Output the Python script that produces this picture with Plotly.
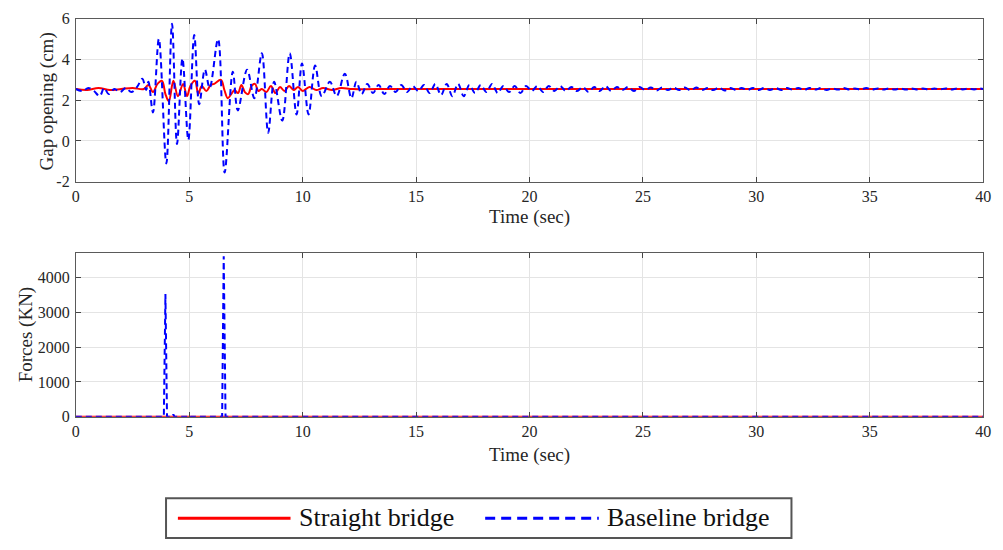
import plotly.graph_objects as go

# ---- Gap opening (cm) time histories ----
gap_t_straight = [0.0, 0.5, 1.0, 1.5, 2.0, 2.5, 3.0, 3.2, 3.4, 3.6, 3.8, 3.95, 4.1, 4.3, 4.5,
                  4.73, 4.9, 5.05, 5.25, 5.4, 5.55, 5.75, 5.95, 6.1, 6.4, 6.55, 6.7, 6.85,
                  7.0, 7.15, 7.3, 7.45, 7.6, 7.75, 7.9, 8.05, 8.2, 8.4, 8.6, 8.8, 9.0, 9.2,
                  9.4, 9.6, 9.8, 10.0, 10.3, 10.6, 10.9, 11.3, 11.7, 12.2, 14.0, 17.0,
                  20.0, 25.0, 30.0, 35.0, 40.0]
gap_straight = [2.55, 2.5, 2.6, 2.5, 2.55, 2.6, 2.55, 2.75, 2.4, 2.8, 2.95, 2.3, 1.95, 2.95, 2.2,
                2.8, 2.2, 2.7, 2.95, 2.3, 2.7, 2.45, 2.75, 2.8, 3.0, 2.5, 2.1, 2.3,
                2.5, 2.35, 2.75, 2.4, 2.3, 2.7, 2.8, 2.45, 2.55, 2.4, 2.7, 2.35, 2.65, 2.45,
                2.7, 2.5, 2.65, 2.45, 2.65, 2.5, 2.6, 2.5, 2.6, 2.55, 2.55, 2.55,
                2.55, 2.55, 2.55, 2.55, 2.55]

gap_t_baseline = [0.0, 0.3, 0.55, 0.8, 1.05, 1.25, 1.45, 1.7, 1.95, 2.2, 2.45, 2.7, 2.93, 3.1,
                  3.2, 3.4, 3.66, 3.99, 4.24, 4.46, 4.7, 4.96, 5.22, 5.44, 5.69, 5.9, 6.27,
                  6.56, 6.92, 7.14, 7.55, 7.87, 8.2, 8.48, 8.74, 9.1, 9.43, 9.73, 9.97,
                  10.26, 10.55, 10.84, 11.2, 11.5, 11.86, 12.15, 12.37,
                  12.6, 12.85, 13.1, 13.35, 13.6, 13.85, 14.1, 14.35, 14.6, 14.85, 15.1,
                  15.35, 15.6, 15.85, 16.1, 16.35, 16.6, 16.85, 17.1, 17.35, 17.6, 17.85,
                  18.1, 18.35, 18.6, 18.85, 19.1, 19.35, 19.6, 19.85, 20.1, 20.35, 20.6,
                  20.85, 21.1, 21.35, 21.6, 21.85, 22.1, 22.35, 22.6, 22.85, 23.1, 23.35,
                  23.6, 23.85, 24.1, 24.35, 24.6, 24.85, 25.1, 25.35, 25.6, 25.85, 26.1,
                  26.35, 26.6, 26.85, 27.1, 27.35, 27.6, 27.85, 28.1, 28.35, 28.6, 28.85,
                  29.1, 29.35, 29.6, 29.85, 30.1, 30.35, 30.6, 30.85, 31.1, 31.35, 31.6,
                  31.85, 32.1, 32.35, 32.6, 32.85, 33.1, 33.35, 33.6, 33.85, 34.1, 34.35,
                  34.6, 34.85, 35.1, 35.35, 35.6, 35.85, 36.1, 36.35, 36.6, 36.85, 37.1,
                  37.35, 37.6, 37.85, 38.1, 38.35, 38.6, 38.85, 39.1, 39.35, 39.6, 39.85, 40.0]
gap_baseline = [2.55, 2.45, 2.6, 2.45, 2.2, 2.6, 2.3, 2.55, 2.4, 2.6, 2.4, 2.65, 3.05, 2.5,
                2.9, 1.4, 5.0, -1.1, 5.75, -0.15, 4.05, 0.05, 5.2, 1.8, 3.5, 2.6, 5.0,
                -1.55, 3.4, 1.5, 3.5, 2.1, 4.3, 0.4, 2.9, 1.0, 4.3, 1.3, 3.8,
                1.3, 3.7, 2.2, 2.9, 2.2, 3.3, 2.1, 2.9,
                2.3, 2.8, 2.35, 2.75, 2.3, 2.7, 2.4, 2.75, 2.4, 2.7, 2.45,
                2.75, 2.35, 2.8, 2.25, 2.8, 2.2, 2.8, 2.2, 2.75, 2.35, 2.75,
                2.4, 2.8, 2.35, 2.7, 2.4, 2.7, 2.35, 2.7, 2.45, 2.7, 2.4,
                2.7, 2.45, 2.7, 2.45, 2.65, 2.45, 2.65, 2.4, 2.65, 2.45, 2.7,
                2.45, 2.65, 2.5, 2.65, 2.45, 2.65, 2.5, 2.62, 2.48, 2.62, 2.5,
                2.62, 2.5, 2.62, 2.48, 2.62, 2.5, 2.6, 2.5, 2.62, 2.48, 2.6,
                2.5, 2.6, 2.5, 2.6, 2.5, 2.6, 2.5, 2.6, 2.5, 2.6, 2.52,
                2.6, 2.5, 2.6, 2.52, 2.6, 2.5, 2.58, 2.52, 2.6, 2.52, 2.58,
                2.52, 2.6, 2.52, 2.58, 2.52, 2.58, 2.52, 2.58, 2.52, 2.58, 2.52,
                2.58, 2.52, 2.58, 2.53, 2.58, 2.52, 2.58, 2.53, 2.57, 2.53, 2.57, 2.55]

# ---- Pounding force (KN) time histories ----
force_t_straight = [0.0, 40.0]
force_straight = [0.0, 0.0]

force_t_baseline = [0.0, 3.88, 3.95, 4.02, 4.25, 4.3, 4.35, 4.95, 5.0, 5.05, 6.45, 6.52, 6.6, 40.0]
force_baseline = [0.0, 0.0, 3530.0, 0.0, 0.0, 60.0, 0.0, 0.0, 40.0, 0.0, 0.0, 4620.0, 0.0, 0.0]

time_ticks = [0, 5, 10, 15, 20, 25, 30, 35, 40]
gap_ticks = [-2, 0, 2, 4, 6]
gap_tick_text = ["-2", "0", "2", "4", "6"]
force_ticks = [0, 1000, 2000, 3000, 4000]

W, H = 1003, 550
RED = "#ff0000"
BLUE = "#0000ff"
FONT = "Liberation Serif, Times New Roman, serif"
TXT = "#262626"


def px(x):
    return x / W


def py(y):
    return 1 - y / H


fig = go.Figure()

fig.add_trace(go.Scatter(x=gap_t_straight, y=gap_straight, mode="lines",
                         line=dict(color=RED, width=2, shape="spline", smoothing=1.0),
                         xaxis="x", yaxis="y", showlegend=False))
fig.add_trace(go.Scatter(x=gap_t_baseline, y=gap_baseline, mode="lines",
                         line=dict(color=BLUE, width=2, dash="6px,4px", shape="spline", smoothing=1.0),
                         xaxis="x", yaxis="y", showlegend=False))
fig.add_trace(go.Scatter(x=force_t_straight, y=force_straight, mode="lines",
                         line=dict(color=RED, width=2),
                         xaxis="x2", yaxis="y2", showlegend=False))
fig.add_trace(go.Scatter(x=force_t_baseline, y=force_baseline, mode="lines",
                         line=dict(color=BLUE, width=2, dash="6px,4px"),
                         xaxis="x2", yaxis="y2", showlegend=False))


def axis_style():
    return dict(
        showline=True, linecolor="#5a5a5a", linewidth=1, mirror="ticks",
        ticks="inside", ticklen=5, tickcolor="#444444",
        showgrid=True, gridcolor="#e4e4e4", gridwidth=1, zeroline=False,
        tickfont=dict(family=FONT, size=16, color=TXT),
    )


x_dom = [px(72.7), px(991)]
fig.update_layout(
    width=W, height=H,
    margin=dict(l=0, r=0, t=0, b=0),
    paper_bgcolor="white", plot_bgcolor="white",
    font=dict(family=FONT, size=16, color=TXT),
    showlegend=False,
    xaxis=dict(domain=x_dom, range=[0, 40], tickvals=time_ticks, anchor="y", **axis_style()),
    yaxis=dict(domain=[py(179.3), py(11)], range=[-2, 6], tickvals=gap_ticks,
               ticktext=gap_tick_text, anchor="x", ticklabelstandoff=2, **axis_style()),
    xaxis2=dict(domain=x_dom, range=[0, 40], tickvals=time_ticks, anchor="y2", **axis_style()),
    yaxis2=dict(domain=[py(421.7), py(252.7)], range=[0, 4714], tickvals=force_ticks,
                anchor="x2", ticklabelstandoff=2, **axis_style()),
)

title_font = dict(family=FONT, size=19, color=TXT)
annotations = [
    dict(text="Time (sec)", x=px(532), y=py(216), xref="paper", yref="paper",
         showarrow=False, font=title_font, xanchor="center", yanchor="middle"),
    dict(text="Time (sec)", x=px(532), y=py(461), xref="paper", yref="paper",
         showarrow=False, font=title_font, xanchor="center", yanchor="middle"),
    dict(text="Gap opening (cm)", x=px(44), y=py(96), xref="paper", yref="paper",
         showarrow=False, font=title_font, textangle=-90, xanchor="center", yanchor="middle"),
    dict(text="Forces (KN)", x=px(22), y=py(337), xref="paper", yref="paper",
         showarrow=False, font=title_font, textangle=-90, xanchor="center", yanchor="middle"),
    dict(text="Straight bridge", x=px(297), y=py(526), xref="paper", yref="paper",
         showarrow=False, font=dict(family=FONT, size=26, color="#111111"),
         xanchor="left", yanchor="middle"),
    dict(text="Baseline bridge", x=px(608), y=py(526), xref="paper", yref="paper",
         showarrow=False, font=dict(family=FONT, size=26, color="#111111"),
         xanchor="left", yanchor="middle"),
]

shapes = [
    # legend frame
    dict(type="rect", xref="paper", yref="paper", x0=px(164), x1=px(797), y0=py(547), y1=py(506),
         line=dict(color="#555555", width=2), fillcolor="white", layer="above"),
    # legend samples
    dict(type="line", xref="paper", yref="paper", x0=px(176), x1=px(290), y0=py(526.5), y1=py(526.5),
         line=dict(color=RED, width=3), layer="above"),
    dict(type="line", xref="paper", yref="paper", x0=px(487), x1=px(602), y0=py(526.5), y1=py(526.5),
         line=dict(color=BLUE, width=3, dash="10px,6px"), layer="above"),
]

fig.update_layout(annotations=annotations, shapes=shapes)

fig.write_html("out.html")
